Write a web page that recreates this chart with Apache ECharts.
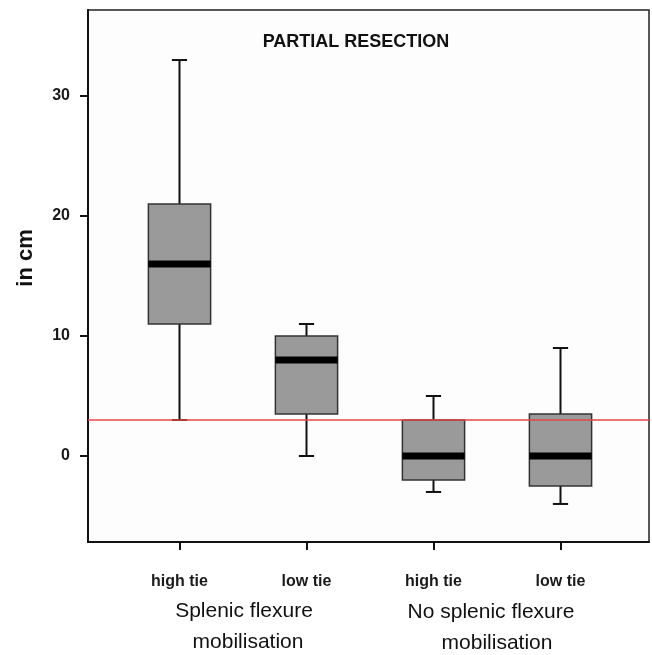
<!DOCTYPE html>
<html>
<head>
<meta charset="utf-8">
<script src="https://cdn.jsdelivr.net/npm/echarts@6/dist/echarts.min.js"></script>
<style>
  html, body { margin: 0; padding: 0; background: #fff; }
  #chart { width: 652px; height: 655px; }
</style>
</head>
<body>
<div id="chart"></div>
<script>
// data
const groups = ['high tie', 'low tie', 'high tie', 'low tie'];
const whiskerLow = [3, 0, -3, -4];
const q1 = [11, 3.5, -2, -2.5];
const median = [16, 8, 0, 0];
const q3 = [21, 10, 3, 3.5];
const whiskerHigh = [33, 11, 5, 9];
const refLine = 3;
const yTicks = [0, 10, 20, 30];

const font = 'Liberation Sans, Arial, sans-serif';

const boxData = groups.map((g, i) => [i, whiskerLow[i], q1[i], median[i], q3[i], whiskerHigh[i]]);

function renderBox(params, api) {
  const x = api.value(0);
  const lo = api.coord([x, api.value(1)]);
  const b1 = api.coord([x, api.value(2)]);
  const md = api.coord([x, api.value(3)]);
  const b3 = api.coord([x, api.value(4)]);
  const hi = api.coord([x, api.value(5)]);
  const band = api.size([1, 0])[0];
  const half = band * 0.245;
  const cap = band * 0.06;
  const cx = lo[0];
  return {
    type: 'group',
    children: [
      { type: 'line', shape: { x1: cx, y1: hi[1], x2: cx, y2: lo[1] }, style: { stroke: '#111', lineWidth: 2 } },
      { type: 'line', shape: { x1: cx - cap, y1: hi[1], x2: cx + cap, y2: hi[1] }, style: { stroke: '#111', lineWidth: 2 } },
      { type: 'line', shape: { x1: cx - cap, y1: lo[1], x2: cx + cap, y2: lo[1] }, style: { stroke: '#111', lineWidth: 2 } },
      { type: 'rect', shape: { x: cx - half, y: b3[1], width: half * 2, height: b1[1] - b3[1] },
        style: { fill: '#9a9a9a', stroke: '#333', lineWidth: 1.5 } },
      { type: 'line', shape: { x1: cx - half, y1: md[1], x2: cx + half, y2: md[1] }, style: { stroke: '#000', lineWidth: 7 } }
    ]
  };
}

const chart = echarts.init(document.getElementById('chart'));

chart.setOption({
  backgroundColor: '#fff',
  animation: false,
  grid: [
    { left: 88, right: 3, top: 10, bottom: 113, show: true, borderColor: '#222', borderWidth: 1.5, backgroundColor: '#fdfdfd' },
    { left: 116, right: 28, top: 10, bottom: 113 }
  ],
  xAxis: [
    {
      gridIndex: 0, type: 'value', min: 0, max: 1, position: 'bottom',
      axisLine: { show: true, onZero: false, lineStyle: { color: '#111', width: 2 } },
      axisTick: { show: false }, axisLabel: { show: false }, splitLine: { show: false }
    },
    {
      gridIndex: 1, type: 'category', data: groups, position: 'bottom',
      axisLine: { show: false, onZero: false },
      axisTick: { show: true, alignWithLabel: true, length: 8, lineStyle: { color: '#111', width: 2 } },
      axisLabel: { margin: 32, color: '#1a1a1a', fontSize: 16, fontWeight: 'bold', fontFamily: font },
      splitLine: { show: false }
    }
  ],
  yAxis: [
    {
      gridIndex: 0, type: 'value', min: -7.17, max: 37.17,
      axisLine: { show: true, onZero: false, lineStyle: { color: '#111', width: 2 } },
      axisTick: { show: true, length: 8, customValues: yTicks, lineStyle: { color: '#111', width: 2 } },
      axisLabel: { customValues: yTicks, margin: 18, color: '#1a1a1a', fontSize: 16, fontWeight: 'bold', fontFamily: font },
      splitLine: { show: false }
    },
    { gridIndex: 1, type: 'value', min: -7.17, max: 37.17, show: false }
  ],
  series: [
    {
      type: 'custom',
      xAxisIndex: 1, yAxisIndex: 1,
      renderItem: renderBox,
      encode: { x: 0, y: [1, 2, 3, 4, 5] },
      data: boxData,
      z: 2
    },
    {
      type: 'line',
      xAxisIndex: 0, yAxisIndex: 0,
      data: [[0, refLine], [1, refLine]],
      symbol: 'none', silent: true,
      lineStyle: { color: '#e8454a', width: 1.5 },
      z: 5
    }
  ],
  graphic: [
    { type: 'text', x: 356, y: 42, style: { text: 'PARTIAL RESECTION', font: 'bold 18px ' + font, fill: '#111', align: 'center', verticalAlign: 'middle' } },
    { type: 'text', x: 26, y: 258, rotation: Math.PI / 2, style: { text: 'in cm', font: 'bold 22px ' + font, fill: '#111', align: 'center', verticalAlign: 'middle' } },
    { type: 'text', x: 244, y: 611, style: { text: 'Splenic flexure', font: '21px ' + font, fill: '#111', align: 'center', verticalAlign: 'middle' } },
    { type: 'text', x: 248, y: 642, style: { text: 'mobilisation', font: '21px ' + font, fill: '#111', align: 'center', verticalAlign: 'middle' } },
    { type: 'text', x: 491, y: 612, style: { text: 'No splenic flexure', font: '21px ' + font, fill: '#111', align: 'center', verticalAlign: 'middle' } },
    { type: 'text', x: 497, y: 643, style: { text: 'mobilisation', font: '21px ' + font, fill: '#111', align: 'center', verticalAlign: 'middle' } }
  ]
});
</script>
</body>
</html>
